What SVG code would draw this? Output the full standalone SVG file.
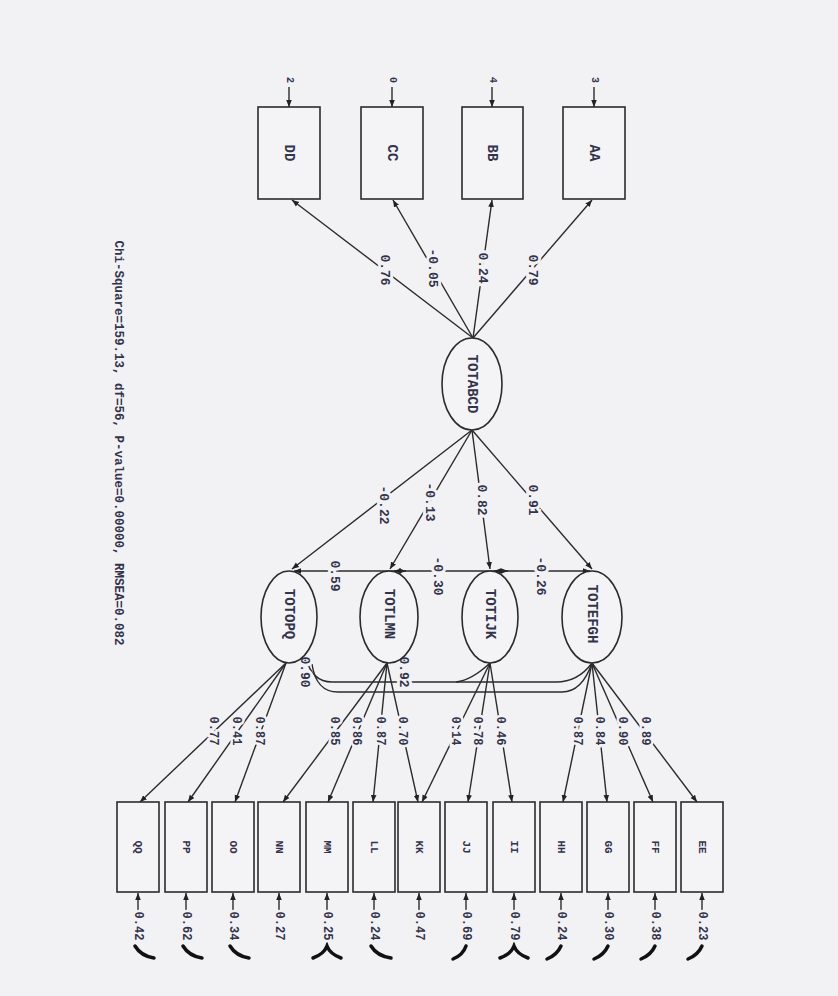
<svg xmlns="http://www.w3.org/2000/svg" width="838" height="996" viewBox="0 0 838 996">
<defs>
<marker id="ah" viewBox="0 0 10 10" refX="10" refY="5" markerWidth="7" markerHeight="7" orient="auto-start-reverse" markerUnits="userSpaceOnUse">
<path d="M0,1 L10,5 L0,9 z" fill="#222"/>
</marker>
<style>
.ln{stroke:#2b2b2b;stroke-width:1.4;fill:none}
.ar{stroke:#2b2b2b;stroke-width:1.4;fill:none;marker-end:url(#ah)}
.db{stroke:#2b2b2b;stroke-width:1.4;fill:none;marker-start:url(#ah);marker-end:url(#ah)}
.bx{fill:#f4f4f7;stroke:#2b2b2b;stroke-width:1.6}
.el{fill:#f4f4f7;stroke:#2b2b2b;stroke-width:1.6}
text{font-family:"Liberation Mono","DejaVu Sans Mono",monospace;fill:#33334a;text-anchor:middle;dominant-baseline:central}
.lab{font-size:13px;font-weight:bold;paint-order:stroke;stroke:#f2f2f5;stroke-width:6px}
.sl{font-size:12px;font-weight:bold;paint-order:stroke;stroke:#f2f2f5;stroke-width:5px}
.el9{font-size:10px;font-weight:bold}
.nm{font-size:14px;font-weight:bold}
.bn{font-size:11px;font-weight:bold}
.lv{font-size:14px;font-weight:bold}
.sq{stroke:#111;stroke-width:3.5;fill:none;stroke-linecap:round}
</style>
</defs>
<rect x="0" y="0" width="838" height="996" fill="#f2f2f5"/>

<g id="connectors">
<line class="ar" x1="289" y1="87" x2="289" y2="107"/>
<line class="ar" x1="392" y1="87" x2="392" y2="107"/>
<line class="ar" x1="492" y1="87" x2="492" y2="107"/>
<line class="ar" x1="594" y1="87" x2="594" y2="107"/>
<line class="ar" x1="473" y1="338" x2="292" y2="200"/>
<line class="ar" x1="473" y1="338" x2="393" y2="200"/>
<line class="ar" x1="473" y1="338" x2="492" y2="200"/>
<line class="ar" x1="473" y1="338" x2="592" y2="200"/>
<line class="ar" x1="472" y1="430" x2="292" y2="569"/>
<line class="ar" x1="472" y1="430" x2="390" y2="569"/>
<line class="ar" x1="472" y1="430" x2="490" y2="569"/>
<line class="ar" x1="472" y1="430" x2="592" y2="569"/>
<line class="db" x1="294" y1="571" x2="406" y2="571"/>
<line class="db" x1="394" y1="571" x2="508" y2="571"/>
<line class="db" x1="494" y1="571" x2="590" y2="571"/>
<path class="ln" d="M306 658 Q312 682 332 682 L556 682 Q578 682 592 663"/>
<path class="ln" d="M312 664 Q316 692 338 692 L562 692 Q582 692 592 663"/>
<path class="ln" d="M490 663 Q472 680 456 682"/>
<line class="ar" x1="286" y1="663" x2="140" y2="802"/>
<line class="ar" x1="286" y1="663" x2="188" y2="802"/>
<line class="ar" x1="286" y1="663" x2="235" y2="802"/>
<line class="ar" x1="387" y1="663" x2="283" y2="802"/>
<line class="ar" x1="387" y1="663" x2="328" y2="802"/>
<line class="ar" x1="387" y1="663" x2="373" y2="802"/>
<line class="ar" x1="387" y1="663" x2="418" y2="802"/>
<line class="ar" x1="490" y1="663" x2="422" y2="802"/>
<line class="ar" x1="490" y1="663" x2="468" y2="802"/>
<line class="ar" x1="490" y1="663" x2="512" y2="802"/>
<line class="ar" x1="592" y1="663" x2="563" y2="802"/>
<line class="ar" x1="592" y1="663" x2="607" y2="802"/>
<line class="ar" x1="592" y1="663" x2="653" y2="802"/>
<line class="ar" x1="592" y1="663" x2="697" y2="802"/>
<line class="ar" x1="138" y1="912" x2="138" y2="893"/>
<line class="ar" x1="186" y1="912" x2="186" y2="893"/>
<line class="ar" x1="233" y1="912" x2="233" y2="893"/>
<line class="ar" x1="279" y1="912" x2="279" y2="893"/>
<line class="ar" x1="327" y1="912" x2="327" y2="893"/>
<line class="ar" x1="374" y1="912" x2="374" y2="893"/>
<line class="ar" x1="419" y1="912" x2="419" y2="893"/>
<line class="ar" x1="466" y1="912" x2="466" y2="893"/>
<line class="ar" x1="514" y1="912" x2="514" y2="893"/>
<line class="ar" x1="561" y1="912" x2="561" y2="893"/>
<line class="ar" x1="608" y1="912" x2="608" y2="893"/>
<line class="ar" x1="655" y1="912" x2="655" y2="893"/>
<line class="ar" x1="702" y1="912" x2="702" y2="893"/>
<path class="sq" d="M135 946 Q141 956 154 958"/>
<path class="sq" d="M183 946 Q189 956 202 958"/>
<path class="sq" d="M230 946 Q236 956 249 958"/>
<path class="sq" d="M313 958 Q324 954 327 946 Q330 954 341 958"/>
<path class="sq" d="M371 946 Q377 956 391 958"/>
<path class="sq" d="M453 959 Q463 955 466 946"/>
<path class="sq" d="M500 958 Q511 954 514 946 Q517 954 528 958"/>
<path class="sq" d="M547 959 Q557 955 561 946"/>
<path class="sq" d="M594 959 Q604 955 608 946"/>
<path class="sq" d="M641 959 Q651 955 655 946"/>
<path class="sq" d="M688 959 Q698 955 702 946"/>
</g>

<g id="labels">
<text class="el9" transform="translate(289 80) rotate(90)">2</text>
<text class="el9" transform="translate(392 80) rotate(90)">0</text>
<text class="el9" transform="translate(492 80) rotate(90)">4</text>
<text class="el9" transform="translate(594 80) rotate(90)">3</text>

<text class="lab" transform="translate(384 270) rotate(90)">0.76</text>
<text class="lab" transform="translate(432 268) rotate(90)">-0.05</text>
<text class="lab" transform="translate(482 268) rotate(90)">0.24</text>
<text class="lab" transform="translate(532 270) rotate(90)">0.79</text>

<text class="lab" transform="translate(383 505) rotate(90)">-0.22</text>
<text class="lab" transform="translate(429 502) rotate(90)">-0.13</text>
<text class="lab" transform="translate(481 500) rotate(90)">0.82</text>
<text class="lab" transform="translate(532 500) rotate(90)">0.91</text>

<text class="lab" transform="translate(334 576) rotate(90)">0.59</text>
<text class="lab" transform="translate(437 576) rotate(90)">-0.30</text>
<text class="lab" transform="translate(540 576) rotate(90)">-0.26</text>

<text class="lab" transform="translate(304 672) rotate(90)">0.90</text>
<text class="lab" transform="translate(403 672) rotate(90)">0.92</text>

<text class="sl" transform="translate(213 731) rotate(90)">0.77</text>
<text class="sl" transform="translate(236 731) rotate(90)">0.41</text>
<text class="sl" transform="translate(259 731) rotate(90)">0.87</text>
<text class="sl" transform="translate(334 731) rotate(90)">0.85</text>
<text class="sl" transform="translate(356 731) rotate(90)">0.86</text>
<text class="sl" transform="translate(380 731) rotate(90)">0.87</text>
<text class="sl" transform="translate(402 731) rotate(90)">0.70</text>
<text class="sl" transform="translate(455 731) rotate(90)">0.14</text>
<text class="sl" transform="translate(477 731) rotate(90)">0.78</text>
<text class="sl" transform="translate(500 731) rotate(90)">0.46</text>
<text class="sl" transform="translate(577 731) rotate(90)">0.87</text>
<text class="sl" transform="translate(599 731) rotate(90)">0.84</text>
<text class="sl" transform="translate(622 731) rotate(90)">0.90</text>
<text class="sl" transform="translate(645 731) rotate(90)">0.89</text>

<text class="sl" transform="translate(138 926) rotate(90)">0.42</text>
<text class="sl" transform="translate(186 926) rotate(90)">0.62</text>
<text class="sl" transform="translate(233 926) rotate(90)">0.34</text>
<text class="sl" transform="translate(279 926) rotate(90)">0.27</text>
<text class="sl" transform="translate(327 926) rotate(90)">0.25</text>
<text class="sl" transform="translate(374 926) rotate(90)">0.24</text>
<text class="sl" transform="translate(419 926) rotate(90)">0.47</text>
<text class="sl" transform="translate(466 926) rotate(90)">0.69</text>
<text class="sl" transform="translate(514 926) rotate(90)">0.79</text>
<text class="sl" transform="translate(561 926) rotate(90)">0.24</text>
<text class="sl" transform="translate(608 926) rotate(90)">0.30</text>
<text class="sl" transform="translate(655 926) rotate(90)">0.38</text>
<text class="sl" transform="translate(702 926) rotate(90)">0.23</text>
</g>

<g id="DD"><rect class="bx" x="258" y="107" width="62" height="92"/><text class="nm" transform="translate(289 153) rotate(90)">DD</text></g>
<g id="CC"><rect class="bx" x="361" y="107" width="62" height="92"/><text class="nm" transform="translate(392 153) rotate(90)">CC</text></g>
<g id="BB"><rect class="bx" x="462" y="107" width="61" height="92"/><text class="nm" transform="translate(492 153) rotate(90)">BB</text></g>
<g id="AA"><rect class="bx" x="563" y="107" width="62" height="92"/><text class="nm" transform="translate(594 153) rotate(90)">AA</text></g>

<g id="TOTABCD"><ellipse class="el" cx="472" cy="384" rx="30" ry="46"/><text class="lv" transform="translate(472 384) rotate(90)">TOTABCD</text></g>
<g id="TOTOPQ"><ellipse class="el" cx="289" cy="617" rx="28" ry="46"/><text class="lv" transform="translate(289 614) rotate(90)">TOTOPQ</text></g>
<g id="TOTLMN"><ellipse class="el" cx="389" cy="617" rx="29" ry="46"/><text class="lv" transform="translate(389 614) rotate(90)">TOTLMN</text></g>
<g id="TOTIJK"><ellipse class="el" cx="490" cy="617" rx="28" ry="46"/><text class="lv" transform="translate(490 614) rotate(90)">TOTIJK</text></g>
<g id="TOTEFGH"><ellipse class="el" cx="592" cy="617" rx="30" ry="46"/><text class="lv" transform="translate(592 614) rotate(90)">TOTEFGH</text></g>

<g id="QQ"><rect class="bx" x="117" y="802" width="42" height="90"/><text class="bn" transform="translate(138 847) rotate(90)">QQ</text></g>
<g id="PP"><rect class="bx" x="165" y="802" width="42" height="90"/><text class="bn" transform="translate(186 847) rotate(90)">PP</text></g>
<g id="OO"><rect class="bx" x="212" y="802" width="42" height="90"/><text class="bn" transform="translate(233 847) rotate(90)">OO</text></g>
<g id="NN"><rect class="bx" x="258" y="802" width="42" height="90"/><text class="bn" transform="translate(279 847) rotate(90)">NN</text></g>
<g id="MM"><rect class="bx" x="306" y="802" width="42" height="90"/><text class="bn" transform="translate(327 847) rotate(90)">MM</text></g>
<g id="LL"><rect class="bx" x="353" y="802" width="42" height="90"/><text class="bn" transform="translate(374 847) rotate(90)">LL</text></g>
<g id="KK"><rect class="bx" x="398" y="802" width="42" height="90"/><text class="bn" transform="translate(419 847) rotate(90)">KK</text></g>
<g id="JJ"><rect class="bx" x="445" y="802" width="42" height="90"/><text class="bn" transform="translate(466 847) rotate(90)">JJ</text></g>
<g id="II"><rect class="bx" x="493" y="802" width="42" height="90"/><text class="bn" transform="translate(514 847) rotate(90)">II</text></g>
<g id="HH"><rect class="bx" x="540" y="802" width="42" height="90"/><text class="bn" transform="translate(561 847) rotate(90)">HH</text></g>
<g id="GG"><rect class="bx" x="587" y="802" width="42" height="90"/><text class="bn" transform="translate(608 847) rotate(90)">GG</text></g>
<g id="FF"><rect class="bx" x="634" y="802" width="42" height="90"/><text class="bn" transform="translate(655 847) rotate(90)">FF</text></g>
<g id="EE"><rect class="bx" x="681" y="802" width="42" height="90"/><text class="bn" transform="translate(702 847) rotate(90)">EE</text></g>

<g id="fit"><text transform="translate(118 443) rotate(90)" font-size="12.5" font-weight="bold">Chi-Square=159.13, df=56, P-value=0.00000, RMSEA=0.082</text></g>
</svg>
